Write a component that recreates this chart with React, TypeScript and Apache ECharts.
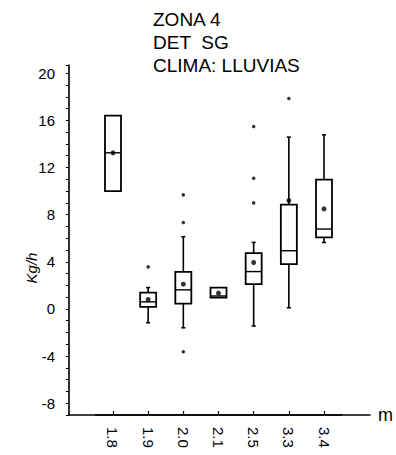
import React, { useEffect, useRef } from 'react';
import * as echarts from 'echarts';

const titleLines = ['ZONA 4', 'DET  SG', 'CLIMA: LLUVIAS'];
const categories = ['1.8', '1.9', '2.0', '2.1', '2.5', '3.3', '3.4'];
const lowerWhisker = [10.0, -1.17, -1.6, 0.96, -1.45, 0.1, 5.64];
const q1 = [10.0, 0.17, 0.45, 0.96, 2.1, 3.8, 6.07];
const median = [13.25, 0.6, 1.62, 1.1, 3.17, 4.94, 6.78];
const q3 = [16.4, 1.39, 3.15, 1.81, 4.74, 8.85, 10.98];
const upperWhisker = [16.4, 1.81, 6.13, 1.81, 5.65, 14.58, 14.78];
const means = [13.25, 0.8, 2.1, 1.34, 3.94, 9.2, 8.49];
const outliers: [number, number][] = [
  [1, 3.57],
  [2, 7.34],
  [2, 9.68],
  [2, -3.63],
  [4, 9.0],
  [4, 11.09],
  [4, 15.49],
  [5, 17.85],
];
const yMin = -9;
const yMax = 20.7;
const yLabelStep = 4;
const yAxisTitle = 'Kg/h';
const xAxisTitle = 'm';

const FONT = '"Liberation Sans", Arial, Helvetica, sans-serif';

export default function App() {
  const ref = useRef<HTMLDivElement>(null);

  useEffect(() => {
    if (!ref.current) return;
    const chart = echarts.init(ref.current, undefined, { renderer: 'svg' });

    const boxData = categories.map((_, i) => [
      i,
      lowerWhisker[i],
      q1[i],
      median[i],
      q3[i],
      upperWhisker[i],
    ]);

    const option: any = {
      animation: false,
      backgroundColor: '#ffffff',
      textStyle: { fontFamily: FONT, color: '#000' },
      title: {
        text: titleLines.join('\n'),
        left: 148,
        top: 3,
        textStyle: {
          fontFamily: FONT,
          fontSize: 19,
          fontWeight: 'normal',
          color: '#000',
          lineHeight: 23,
        },
      },
      graphic: [
        {
          type: 'text',
          x: 31,
          y: 268,
          rotation: Math.PI / 2,
          style: {
            text: yAxisTitle,
            fontFamily: FONT,
            fontSize: 15,
            fontStyle: 'italic',
            fill: '#000',
            align: 'center',
            verticalAlign: 'middle',
          },
        },
      ],
      grid: [
        { left: 69, right: 24, top: 65, bottom: 40 },
        { left: 95.4, right: 54.4, top: 65, bottom: 40 },
      ],
      xAxis: [
        {
          type: 'value',
          gridIndex: 0,
          min: 0,
          max: 1,
          axisLine: { show: true, onZero: false, lineStyle: { color: '#000', width: 1.6 } },
          axisTick: { show: false },
          axisLabel: { show: false },
          splitLine: { show: false },
          name: xAxisTitle,
          nameLocation: 'end',
          nameGap: 8,
          nameTextStyle: {
            fontFamily: FONT,
            fontSize: 18,
            color: '#000',
            verticalAlign: 'middle',
            padding: [0, 0, 10, 0],
          },
        },
        {
          type: 'category',
          gridIndex: 1,
          data: categories,
          boundaryGap: true,
          axisLine: { show: true, onZero: false, lineStyle: { color: '#000', width: 1.6 } },
          axisTick: {
            show: true,
            alignWithLabel: true,
            inside: true,
            length: 4,
            lineStyle: { color: '#000', width: 1.2 },
          },
          axisLabel: {
            rotate: -90,
            margin: 12,
            fontFamily: FONT,
            fontSize: 15,
            color: '#000',
          },
          splitLine: { show: false },
        },
      ],
      yAxis: [
        {
          type: 'value',
          gridIndex: 0,
          min: yMin,
          max: yMax,
          interval: 1,
          axisLine: { show: true, onZero: false, lineStyle: { color: '#000', width: 1.6 } },
          axisTick: { show: true, length: 3, lineStyle: { color: '#000', width: 1 } },
          axisLabel: {
            margin: 14,
            fontFamily: FONT,
            fontSize: 15,
            color: '#000',
            formatter: (v: number) =>
              Math.abs(v % yLabelStep) < 1e-9 && Math.abs(v - Math.round(v)) < 1e-9 ? String(v) : '',
          },
          splitLine: { show: false },
        },
        {
          type: 'value',
          gridIndex: 1,
          min: yMin,
          max: yMax,
          interval: 1,
          show: false,
          splitLine: { show: false },
        },
      ],
      series: [
        {
          type: 'custom',
          xAxisIndex: 1,
          yAxisIndex: 1,
          data: boxData,
          encode: { x: 0, y: [1, 2, 3, 4, 5] },
          renderItem: (params: any, api: any) => {
            const i = api.value(0);
            const lw = api.coord([i, api.value(1)]);
            const b1 = api.coord([i, api.value(2)]);
            const md = api.coord([i, api.value(3)]);
            const b3 = api.coord([i, api.value(4)]);
            const uw = api.coord([i, api.value(5)]);
            const x = md[0];
            const half = 8;
            const cap = 2;
            const ls = { stroke: '#000', lineWidth: 1.6 };
            const children: any[] = [];
            if (uw[1] < b3[1] - 0.5) {
              children.push({ type: 'line', shape: { x1: x, y1: uw[1], x2: x, y2: b3[1] }, style: ls });
              children.push({ type: 'line', shape: { x1: x - cap, y1: uw[1], x2: x + cap, y2: uw[1] }, style: ls });
            }
            if (lw[1] > b1[1] + 0.5) {
              children.push({ type: 'line', shape: { x1: x, y1: b1[1], x2: x, y2: lw[1] }, style: ls });
              children.push({ type: 'line', shape: { x1: x - cap, y1: lw[1], x2: x + cap, y2: lw[1] }, style: ls });
            }
            children.push({
              type: 'rect',
              shape: { x: x - half, y: b3[1], width: half * 2, height: b1[1] - b3[1] },
              style: { fill: '#fff', stroke: '#000', lineWidth: 1.8 },
            });
            children.push({
              type: 'line',
              shape: { x1: x - half, y1: md[1], x2: x + half, y2: md[1] },
              style: { stroke: '#000', lineWidth: 1.4 },
            });
            return { type: 'group', children };
          },
          z: 2,
        },
        {
          type: 'scatter',
          xAxisIndex: 1,
          yAxisIndex: 1,
          data: means.map((m, i) => [i, m]),
          symbol: 'circle',
          symbolSize: 5,
          itemStyle: { color: '#000' },
          z: 3,
        },
        {
          type: 'scatter',
          xAxisIndex: 1,
          yAxisIndex: 1,
          data: outliers,
          symbol: 'circle',
          symbolSize: 3.5,
          itemStyle: { color: '#000' },
          z: 3,
        },
      ],
    };

    chart.setOption(option);
    return () => chart.dispose();
  }, []);

  return (
    <div
      ref={ref}
      style={{ position: 'fixed', left: 0, top: 0, width: 396, height: 455, background: '#fff' }}
    />
  );
}
